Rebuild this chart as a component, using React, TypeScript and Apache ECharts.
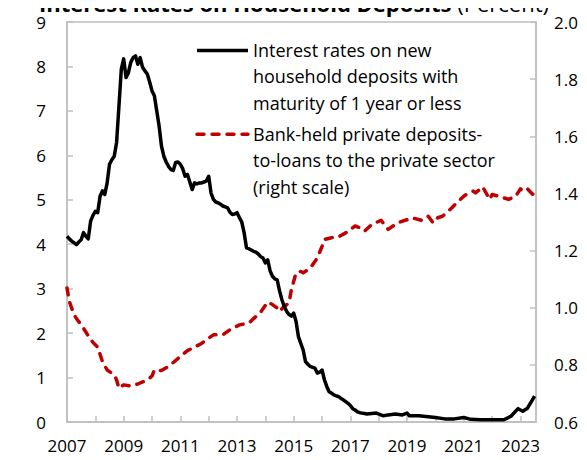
import React, { useEffect, useRef } from "react";
import * as echarts from "echarts";

const titleBold = "Interest Rates on Household Deposits";
const titleRegular = "(Percent)";
const rateName = "Interest rates on new\nhousehold deposits with\nmaturity of 1 year or less";
const ratioName = "Bank-held private deposits-\nto-loans to the private sector\n(right scale)";

const labeledYears = [2007, 2009, 2011, 2013, 2015, 2017, 2019, 2021, 2023];

// monthly dates 2007-01 .. 2017-08 followed by sparser readings
function monthRange(start: string, end: string): string[] {
  const out: string[] = [];
  let [y, m] = start.split("-").map(Number);
  const [ey, em] = end.split("-").map(Number);
  while (y < ey || (y === ey && m <= em)) {
    out.push(`${y}-${String(m).padStart(2, "0")}`);
    m += 1;
    if (m > 12) { m = 1; y += 1; }
  }
  return out;
}

const rateDates: string[] = [
  ...monthRange("2007-01", "2017-08"),
  "2017-12", "2018-03", "2018-05", "2018-08", "2018-11", "2019-01", "2019-02", "2019-06",
  "2019-10", "2020-01", "2020-05", "2020-09", "2021-01", "2021-04", "2021-08", "2022-01",
  "2022-06", "2022-09", "2022-12", "2023-02", "2023-04", "2023-07",
];
const rateValues: number[] = [
  4.18, 4.12, 4.07, 4.03, 3.99, 4.05, 4.10, 4.26, 4.18, 4.12, 4.52, 4.65,
  4.74, 4.71, 5.08, 5.20, 5.12, 5.38, 5.80, 5.90, 5.98, 6.29, 7.11, 7.94,
  8.17, 7.75, 7.86, 8.09, 8.20, 8.24, 8.05, 8.20, 7.98, 7.90, 7.83, 7.65,
  7.45, 7.34, 7.00, 6.66, 6.21, 5.98, 5.85, 5.75, 5.68, 5.66, 5.84, 5.85,
  5.80, 5.70, 5.53, 5.57, 5.40, 5.23, 5.38, 5.36, 5.38, 5.38, 5.40, 5.42,
  5.53, 5.15, 5.01, 4.95, 4.93, 4.90, 4.86, 4.84, 4.82, 4.72, 4.67, 4.68,
  4.71, 4.60, 4.50, 4.26, 3.92, 3.90, 3.87, 3.84, 3.82, 3.78, 3.72, 3.69,
  3.58, 3.65, 3.40, 3.28, 3.22, 3.20, 2.95, 2.75, 2.60, 2.49, 2.42, 2.38,
  2.45, 2.26, 1.92, 1.77, 1.62, 1.36, 1.30, 1.25, 1.23, 1.21, 1.10, 1.12,
  1.17, 0.95, 0.80, 0.68, 0.65, 0.61, 0.59, 0.57, 0.53, 0.50, 0.46, 0.42,
  0.37, 0.30, 0.27, 0.23, 0.21, 0.20, 0.19, 0.18,
  0.20, 0.14, 0.16, 0.18, 0.16, 0.20, 0.14, 0.14,
  0.12, 0.10, 0.07, 0.07, 0.10, 0.06, 0.05, 0.05,
  0.05, 0.13, 0.30, 0.24, 0.31, 0.58,
];

const ratioDates: string[] = [
  "2007-01", "2007-02", "2007-04", "2007-05", "2007-07", "2007-09", "2007-11", "2008-01",
  "2008-02", "2008-04", "2008-06", "2008-09", "2008-10", "2008-11", "2009-01", "2009-04",
  "2009-07", "2009-11", "2010-01", "2010-02", "2010-05", "2010-08", "2010-11", "2011-01",
  "2011-04", "2011-07", "2011-10", "2011-12", "2012-03", "2012-07", "2012-10", "2013-02",
  "2013-06", "2013-08", "2013-11", "2014-02", "2014-04", "2014-06", "2014-07", "2014-09",
  "2014-11", "2014-12", "2015-02", "2015-04", "2015-05", "2015-08", "2015-11", "2016-01",
  "2016-02", "2016-05", "2016-08", "2016-11", "2017-03", "2017-05", "2017-07", "2017-10",
  "2018-02", "2018-05", "2018-09", "2019-01", "2019-03", "2019-07", "2019-10", "2019-12",
  "2020-02", "2020-04", "2020-08", "2020-10", "2021-01", "2021-02", "2021-05", "2021-06",
  "2021-09", "2021-12", "2022-01", "2022-04", "2022-08", "2022-11", "2023-01", "2023-02",
  "2023-04", "2023-07",
];
const ratioValues: number[] = [
  1.069, 1.022, 0.975, 0.962, 0.940, 0.915, 0.888, 0.870,
  0.862, 0.812, 0.782, 0.765, 0.747, 0.718, 0.730, 0.726,
  0.733, 0.747, 0.761, 0.782, 0.780, 0.795, 0.815, 0.830,
  0.850, 0.862, 0.875, 0.888, 0.905, 0.905, 0.923, 0.940,
  0.946, 0.962, 0.984, 1.020, 1.011, 0.999, 0.987, 1.005,
  1.016, 1.063, 1.122, 1.127, 1.122, 1.139, 1.174, 1.215,
  1.239, 1.245, 1.248, 1.262, 1.286, 1.280, 1.268, 1.291,
  1.306, 1.274, 1.297, 1.308, 1.315, 1.306, 1.320, 1.297,
  1.315, 1.320, 1.350, 1.367, 1.390, 1.396, 1.408, 1.402,
  1.423, 1.379, 1.396, 1.390, 1.379, 1.390, 1.416, 1.408,
  1.416, 1.390,
];

const toYear = (d: string) => {
  const [y, m] = d.split("-").map(Number);
  return y + (m - 1) / 12;
};

const FONT = "'Open Sans', 'Noto Sans', sans-serif";
const AXIS_GRAY = "#bfbfbf";

export default function App() {
  const ref = useRef<HTMLDivElement>(null);
  useEffect(() => {
    if (!ref.current) return;
    const chart = echarts.init(ref.current, undefined, { renderer: "svg" });
    const rateData = rateDates.map((d, i) => [toYear(d), rateValues[i]]);
    const ratioData = ratioDates.map((d, i) => [toYear(d), ratioValues[i]]);
    const axisCommon = {
      axisLine: { show: true, lineStyle: { color: AXIS_GRAY, width: 1.5 } },
      axisTick: { show: true, inside: true, length: 6, lineStyle: { color: AXIS_GRAY, width: 1.5 } },
      splitLine: { show: false },
    };
    chart.setOption({
      animation: false,
      backgroundColor: "#ffffff",
      textStyle: { fontFamily: FONT },
      grid: {
        left: 67, right: 51, top: 22, bottom: 38,
        show: true, borderColor: AXIS_GRAY, borderWidth: 1.5,
      },
      xAxis: {
        type: "value",
        min: 2007,
        max: 2023.55,
        interval: 1,
        ...axisCommon,
        axisLabel: {
          fontSize: 17, color: "#000", fontFamily: FONT, margin: 15,
          showMaxLabel: false,
          formatter: (v: number) => {
            const r = Math.round(v);
            return Math.abs(v - r) < 1e-6 && labeledYears.includes(r) ? String(r) : "";
          },
        },
      },
      yAxis: [
        {
          type: "value", min: 0, max: 9, interval: 1, position: "left",
          ...axisCommon,
          axisLabel: { fontSize: 17, color: "#000", fontFamily: FONT, margin: 21 },
        },
        {
          type: "value", min: 0.6, max: 2.0, interval: 0.2, position: "right",
          ...axisCommon,
          axisLabel: {
            fontSize: 17, color: "#000", fontFamily: FONT, margin: 18,
            formatter: (v: number) => v.toFixed(1),
          },
        },
      ],
      series: [
        {
          name: ratioName, type: "line", yAxisIndex: 1, data: ratioData,
          showSymbol: false, symbol: "none",
          lineStyle: { color: "#c00000", width: 3.5, type: [7, 8], cap: "round", join: "round" },
        },
        {
          name: rateName, type: "line", yAxisIndex: 0, data: rateData,
          showSymbol: false, symbol: "none",
          lineStyle: { color: "#000000", width: 3.5, join: "round" },
        },
      ],
      graphic: [
        {
          type: "text", x: 294, y: 14,
          style: {
            text: `{b|${titleBold}} {n|${titleRegular}}`,
            align: "center", verticalAlign: "bottom",
            fontFamily: FONT, fontSize: 22, fill: "#000",
            rich: {
              b: { fontWeight: "bold", fontSize: 22, fontFamily: FONT, fill: "#000" },
              n: { fontWeight: "normal", fontSize: 22, fontFamily: FONT, fill: "#000" },
            },
          },
        },
        {
          type: "line", shape: { x1: 197, y1: 50.5, x2: 248, y2: 50.5 },
          style: { stroke: "#000", lineWidth: 3.5 },
        },
        {
          type: "text", x: 253, y: 50 - 13.2,
          style: {
            text: rateName, fontFamily: FONT, fontSize: 18, lineHeight: 26.4,
            fill: "#000", align: "left", verticalAlign: "top",
          },
        },
        {
          type: "line", shape: { x1: 197, y1: 134.3, x2: 248, y2: 134.3 },
          style: { stroke: "#c00000", lineWidth: 3.5, lineDash: [7, 8], lineCap: "round" },
        },
        {
          type: "text", x: 253, y: 134 - 13.2,
          style: {
            text: ratioName, fontFamily: FONT, fontSize: 18, lineHeight: 26.4,
            fill: "#000", align: "left", verticalAlign: "top",
          },
        },
      ],
    });
    return () => chart.dispose();
  }, []);
  return <div ref={ref} style={{ width: 587, height: 460, margin: -8 }} />;
}
